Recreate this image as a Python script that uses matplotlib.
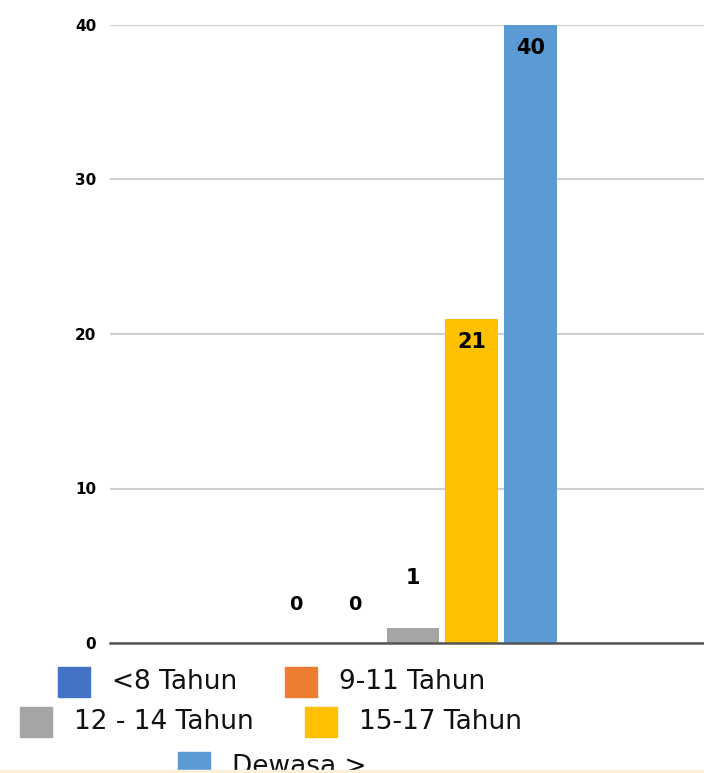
import matplotlib.pyplot as plt
from matplotlib.patches import Rectangle

# data
categories = ["<8 Tahun", "9-11 Tahun", "12 - 14 Tahun", "15-17 Tahun", "Dewasa >"]
values = [0, 0, 1, 21, 40]
colors = ["#4472c4", "#ed7d31", "#a5a5a5", "#ffc000", "#5b9bd5"]
yticks = [0, 10, 20, 30, 40]

W, H = 704, 773
fig = plt.figure(figsize=(W / 100, H / 100), dpi=100)
fig.patch.set_facecolor("white")

ax = fig.add_axes([110 / W, 1 - 643 / H, (W - 110) / W, (643 - 25) / H])
x = list(range(len(values)))
ax.bar(x, values, width=0.9, color=colors, zorder=3)
ax.set_xlim(-3.18, 6.97)
ax.set_ylim(0, 40)
ax.set_yticks(yticks)
ax.set_yticklabels([str(t) for t in yticks], fontsize=11, fontweight="bold")
ax.tick_params(axis="y", length=0, pad=10)
ax.set_xticks([])
ax.grid(axis="y", color="#d0d0d0", linewidth=1.5, zorder=0)
for s in ["top", "right", "left"]:
    ax.spines[s].set_visible(False)
ax.spines["bottom"].set_color("#555555")
ax.spines["bottom"].set_linewidth(1.8)
ax.spines["bottom"].set_zorder(4)

# value labels: inside the top of tall bars, above short ones
for xi, v in zip(x, values):
    if v >= 10:
        ax.text(xi, v - 1.5, str(v), ha="center", va="center", fontsize=15,
                fontweight="bold", zorder=5)
    else:
        ypos = 2.5 if v == 0 else v + 3.2
        ax.text(xi, ypos, str(v), ha="center", va="center",
                fontsize=14 if v == 0 else 15, fontweight="bold", zorder=5)

# legend drawn by hand, rows centered like the original
rows = [
    [(0, 58), (1, 285)],
    [(2, 20), (3, 305)],
    [(4, 178)],
]
row_y = [682, 722, 767]
for row, yc in zip(rows, row_y):
    for idx, px in row:
        fig.patches.append(Rectangle((px / W, 1 - (yc + 15) / H), 32 / W, 30 / H,
                                     transform=fig.transFigure, color=colors[idx],
                                     figure=fig))
        fig.text((px + 54) / W, 1 - yc / H, categories[idx], fontsize=19,
                 ha="left", va="center", color="#111111")

fig.patches.append(Rectangle((0, 0), 1, 3 / H, transform=fig.transFigure,
                             color="#fdf1dc", figure=fig, zorder=10))

fig.savefig("out.png", dpi=100)
